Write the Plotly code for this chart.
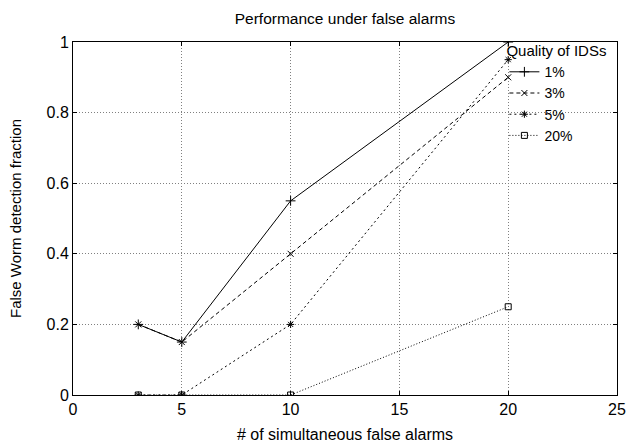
import plotly.graph_objects as go

x_vals = [3, 5, 10, 20]
q1 = [0.2, 0.15, 0.55, 1.0]
q3 = [0.2, 0.15, 0.4, 0.9]
q5 = [0.0, 0.0, 0.2, 0.95]
q20 = [0.0, 0.0, 0.0, 0.25]
names = ["1%", "3%", "5%", "20%"]

styles = [
    dict(dash="solid", symbol="cross-thin-open", size=7),
    dict(dash="4px,3px", symbol="x-thin-open", size=6),
    dict(dash="2px,3px", symbol="asterisk-open", size=6),
    dict(dash="1px,2px", symbol="square-open", size=6),
]

fig = go.Figure()
for name, ys, st in zip(names, [q1, q3, q5, q20], styles):
    fig.add_trace(go.Scatter(
        x=x_vals, y=ys, name=name, mode="lines+markers",
        line=dict(color="black", width=1, dash=st["dash"]),
        marker=dict(symbol=st["symbol"], size=st["size"], color="black",
                    line=dict(color="black", width=1)),
    ))

font = "Liberation Sans, Arial, Helvetica, sans-serif"
fig.update_layout(
    width=626, height=443,
    margin=dict(l=73, r=9, t=42, b=48, autoexpand=False),
    paper_bgcolor="white", plot_bgcolor="white",
    font=dict(family=font, size=16, color="black"),
    title=dict(text="Performance under false alarms", x=0.5, xref="paper", xanchor="center",
               y=1 - 19 / 443, yanchor="middle", font=dict(size=15.5), automargin=False),
    showlegend=True,
    legend=dict(
        title=dict(text="Quality of IDSs", font=dict(size=15)),
        x=0.793, y=1.015, xanchor="left", yanchor="top",
        bgcolor="rgba(0,0,0,0)", borderwidth=0,
        font=dict(size=14), tracegroupgap=0, itemwidth=30,
    ),
    xaxis=dict(
        range=[0, 25], tickvals=[0, 5, 10, 15, 20, 25],
        showgrid=True, gridcolor="#808080", griddash="1px,2px", gridwidth=1,
        showline=True, linecolor="black", linewidth=1, mirror="ticks",
        ticks="inside", ticklen=4, tickcolor="black",
        zeroline=False, automargin=False,
        tickfont=dict(size=16),
        title=dict(text="# of simultaneous false alarms", font=dict(size=16), standoff=11),
    ),
    yaxis=dict(
        range=[0, 1], tickvals=[0, 0.2, 0.4, 0.6, 0.8, 1],
        ticktext=["0", "0.2", "0.4", "0.6", "0.8", "1"],
        showgrid=True, gridcolor="#808080", griddash="1px,2px", gridwidth=1,
        showline=True, linecolor="black", linewidth=1, mirror="ticks",
        ticks="inside", ticklen=4, tickcolor="black",
        zeroline=False, automargin=False,
        tickfont=dict(size=16),
        title=dict(text="False Worm detection fraction", font=dict(size=15), standoff=21),
    ),
)

fig.write_html(
    "out.html",
    config={"displayModeBar": False},
    post_script="document.body.style.margin='0';document.body.style.overflow='hidden';",
)
